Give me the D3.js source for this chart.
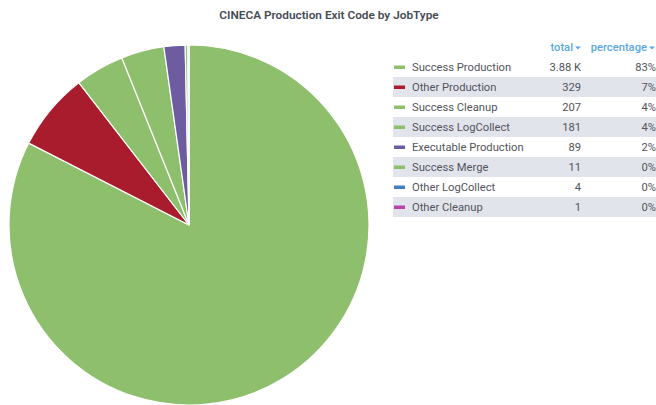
<!DOCTYPE html>
<html><head><meta charset="utf-8">
<script src="https://cdn.jsdelivr.net/npm/d3@7"></script>
<style>
html,body{margin:0;padding:0;background:#fff;}
svg{display:block;font-family:Roboto, "Noto Sans", sans-serif;}
</style></head>
<body><svg id="c" width="656" height="405"></svg>
<script>
const categories = ["Success Production","Other Production","Success Cleanup","Success LogCollect","Executable Production","Success Merge","Other LogCollect","Other Cleanup"];
const totals = [3880, 329, 207, 181, 89, 11, 4, 1];
const totalLabels = ["3.88 K","329","207","181","89","11","4","1"];
const colors = ["#8ebf6c","#a81c2e","#8ebf6c","#8ebf6c","#6d5ca0","#8ebf6c","#447ebc","#ba43a9"];
const title = "CINECA Production Exit Code by JobType";
const headers = ["total","percentage"];

const svg = d3.select("#c");
svg.append("text").attr("x",329).attr("y",18.5).attr("text-anchor","middle")
  .attr("font-size",11.8).attr("font-weight",600).attr("fill","#464c54").text(title);

const data = categories.map((c,i)=>({name:c,value:totals[i],label:totalLabels[i],color:colors[i]}));
const sum = d3.sum(totals);
const pie = d3.pie().sort(null).value(d=>d.value);
const arc = d3.arc().innerRadius(0).outerRadius(180);
const g = svg.append("g").attr("transform","translate(189,225)");
g.selectAll("path").data(pie(data)).join("path")
  .attr("d",arc).attr("fill",d=>d.data.color)
  .attr("stroke","#fff").attr("stroke-width",1.2);

// legend
const lg = svg.append("g");
const fs = 11.2;
const rowH = 20, top0 = 57, lx = 393, rx = 656;
const hdrX = [582, 656];
headers.forEach((h,i)=>{
  lg.append("text").attr("x",hdrX[i]-9).attr("y",51).attr("text-anchor","end")
    .attr("font-size",fs).attr("font-weight",500).attr("fill","#5aa9e0").text(h);
  lg.append("path").attr("d",`M${hdrX[i]-7},46.5 l6,0 l-3,3 z`).attr("fill","#5aa9e0");
});
data.forEach((d,i)=>{
  const y = top0 + i*rowH;
  if(i%2===1) lg.append("rect").attr("x",lx).attr("y",y).attr("width",rx-lx).attr("height",rowH).attr("fill","#e2e4ec");
  lg.append("rect").attr("x",394).attr("y",y+rowH/2-1.5).attr("width",11).attr("height",3.5).attr("fill",d.color);
  lg.append("text").attr("x",412).attr("y",y+14).attr("font-size",fs).attr("fill","#52545c").text(d.name);
  lg.append("text").attr("x",581).attr("y",y+14).attr("text-anchor","end").attr("font-size",fs).attr("fill","#52545c").text(d.label);
  lg.append("text").attr("x",656).attr("y",y+14).attr("text-anchor","end").attr("font-size",fs).attr("fill","#52545c").text(Math.round(d.value/sum*100)+"%");
});
</script></body></html>
